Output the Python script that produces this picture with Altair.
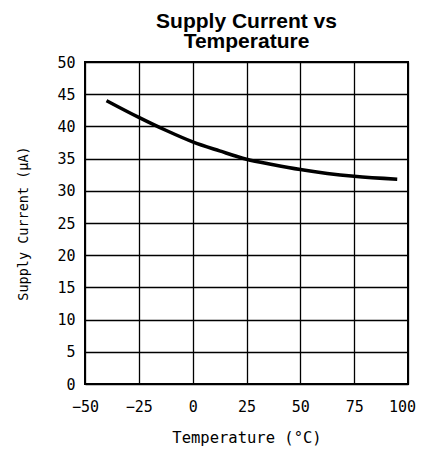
import altair as alt
import pandas as pd

temperature = [-40, -25, -12.5, 0, 12.5, 25, 37.5, 50, 62.5, 75, 95]
current = [44.0, 41.4, 39.4, 37.6, 36.2, 34.9, 34.05, 33.3, 32.7, 32.25, 31.8]

x_ticks = [-50, -25, 0, 25, 50, 75, 100]
y_ticks = [0, 5, 10, 15, 20, 25, 30, 35, 40, 45, 50]

df = pd.DataFrame({"t": temperature, "i": current})

mono = "DejaVu Sans Mono"

chart = alt.Chart(df).mark_line(
    color="black", strokeWidth=3.5, interpolate="monotone"
).encode(
    x=alt.X("t:Q", scale=alt.Scale(domain=[-50, 100], nice=False),
            axis=alt.Axis(values=x_ticks, title="Temperature (°C)", grid=True,
                          gridColor="black", gridWidth=1.3, gridOpacity=1,
                          ticks=False, domain=False, labelFont=mono, labelFontSize=15,
                          labelColor="black", labelPadding=15, titleFont=mono,
                          titleFontSize=15.5, titleFontWeight="normal", titleColor="black",
                          titlePadding=16, labelFlush=False,
                          labelOffset={"condition": {"test": "datum.value == 100", "value": -6},
                                       "value": 0})),
    y=alt.Y("i:Q", scale=alt.Scale(domain=[0, 50], nice=False),
            axis=alt.Axis(values=y_ticks, title="Supply Current (µA)", grid=True,
                          gridColor="black", gridWidth=1.3, gridOpacity=1,
                          ticks=False, domain=False, labelFont=mono, labelFontSize=15,
                          labelColor="black", labelPadding=10, titleFont=mono,
                          titleFontSize=13.5, titleFontWeight="normal", titleColor="black",
                          titlePadding=26, labelFlush=False)),
).properties(
    width=323,
    height=322,
    title=alt.TitleParams(["Supply Current vs", "Temperature"], font="Liberation Sans",
                          fontSize=21, fontWeight="bold", color="black",
                          lineHeight=20, anchor="middle", offset=3, frame="group"),
    autosize=alt.AutoSizeParams(type="none"),
    padding={"left": 77, "top": 54, "right": 8, "bottom": 64},
).configure_view(stroke="black", strokeWidth=2)

chart.save("out.html", embed_options={"renderer": "svg", "actions": False})
